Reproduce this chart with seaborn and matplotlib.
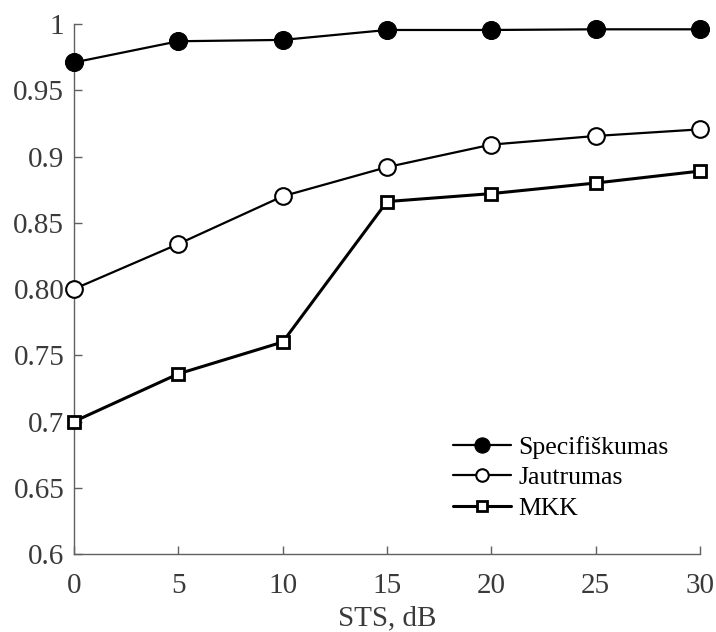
import matplotlib
matplotlib.use("Agg")
import matplotlib.pyplot as plt
import seaborn as sns
import pandas as pd

sts_db = [0, 5, 10, 15, 20, 25, 30]
specifiskumas = [0.971, 0.987, 0.988, 0.9955, 0.9955, 0.996, 0.996]
jautrumas = [0.800, 0.834, 0.870, 0.892, 0.909, 0.9155, 0.9205]
mkk = [0.700, 0.736, 0.760, 0.866, 0.872, 0.880, 0.889]

y_ticks = [0.6, 0.65, 0.7, 0.75, 0.8, 0.85, 0.9, 0.95, 1.0]
y_tick_labels = ["0.6", "0.65", "0.7", "0.75", "0.80", "0.85", "0.9", "0.95", "1"]
x_ticks = [0, 5, 10, 15, 20, 25, 30]

sns.set_theme(style="ticks")
plt.rcParams["font.family"] = ["Liberation Serif", "DejaVu Serif"]

fig = plt.figure(figsize=(7.16, 6.32), dpi=100)
ax = fig.add_axes([0.1034, 0.1234, 0.8743, 0.8386])

series = [
    ("Specifiškumas", specifiskumas, dict(marker="o", markersize=13, markerfacecolor="black",
                                          markeredgecolor="black", linewidth=1.6)),
    ("Jautrumas", jautrumas, dict(marker="o", markersize=12, markerfacecolor="white",
                                  markeredgecolor="black", markeredgewidth=1.5, linewidth=1.6)),
    ("MKK", mkk, dict(marker="s", markersize=9, markerfacecolor="white",
                      markeredgecolor="black", markeredgewidth=2.0, linewidth=2.2)),
]

for name, vals, style in series:
    df = pd.DataFrame({"STS": sts_db, "value": vals})
    sns.lineplot(data=df, x="STS", y="value", ax=ax, color="black", label=name,
                 clip_on=False, zorder=3, **style)

ax.set_xlim(0, 30)
ax.set_ylim(0.6, 1.0)
ax.set_xticks(x_ticks)
ax.set_xticklabels([str(v) for v in x_ticks])
ax.set_yticks(y_ticks)
ax.set_yticklabels(y_tick_labels)

text_color = "#3a3a3a"
spine_color = "#606060"
for side in ("top", "right"):
    ax.spines[side].set_visible(False)
for side in ("left", "bottom"):
    ax.spines[side].set_color(spine_color)
    ax.spines[side].set_linewidth(1.0)
ax.tick_params(direction="in", length=6, width=1.0, color=spine_color,
               labelsize=21, labelcolor=text_color)
ax.tick_params(axis="x", pad=14)
ax.tick_params(axis="y", pad=7)

ax.set_xlabel("STS, dB", fontsize=21, color=text_color, labelpad=4)
ax.set_ylabel("")

leg = ax.legend(loc="lower right", bbox_to_anchor=(0.95, 0.065), frameon=False,
                fontsize=18.5, handlelength=2.25, handletextpad=0.3, labelspacing=0.28,
                borderaxespad=0, borderpad=0)
for txt in leg.get_texts():
    txt.set_color("black")
legend_marker_sizes = [11, 9, 7]
for handle, ms in zip(leg.legend_handles, legend_marker_sizes):
    handle.set_markersize(ms)

fig.savefig("out.png", dpi=100)
